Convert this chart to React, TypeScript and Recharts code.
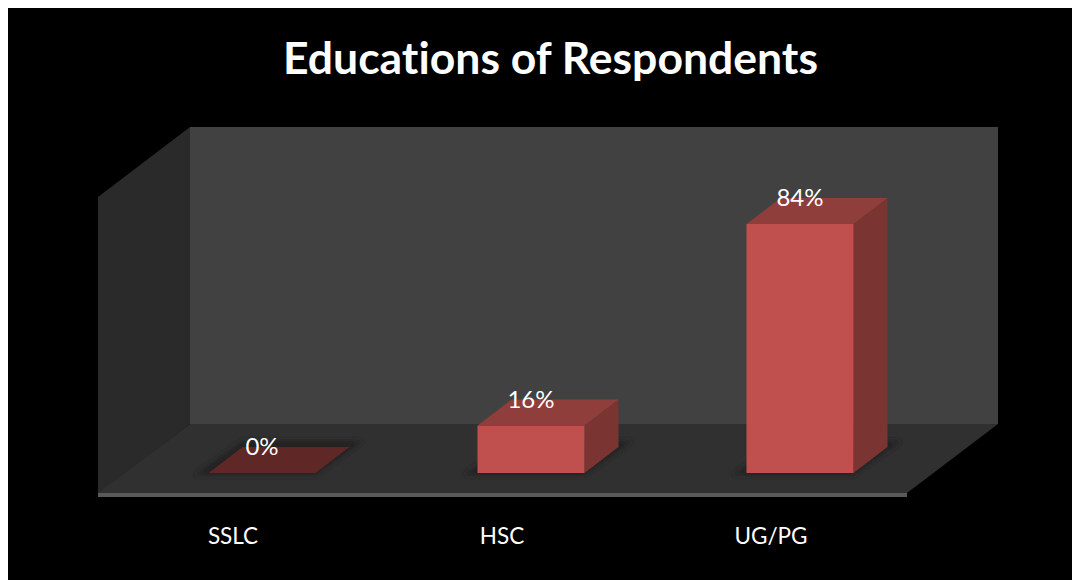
import { BarChart, Bar, XAxis, YAxis, LabelList } from 'recharts'

const categories = ['SSLC', 'HSC', 'UG/PG']
const shares = [0, 16, 84]
const chartData = categories.map((name, i) => ({ name, share: shares[i] }))

const WIDTH = 1072
const HEIGHT = 572
const FONT = 'Lato, "Open Sans", sans-serif'

// oblique offset used for the fake 3D depth of each column
const DEPTH_X = 34
const DEPTH_Y = 26

const pts = (list: number[][]) => list.map((p) => p.join(',')).join(' ')

function Box3D(props: any) {
  const { x, y, width, height } = props
  const right = x + width
  const base = y + height
  const flat = height < 1
  return (
    <g>
      <polygon
        points={pts([
          [x - 14, base + 2],
          [right, base + 2],
          [right + DEPTH_X + 14, base - DEPTH_Y - 6],
          [x + DEPTH_X, base - DEPTH_Y - 6],
        ])}
        fill="#222222"
        filter="url(#floorShadow)"
      />
      {!flat && (
        <polygon
          points={pts([
            [right, y],
            [right + DEPTH_X, y - DEPTH_Y],
            [right + DEPTH_X, base - DEPTH_Y],
            [right, base],
          ])}
          fill="#7a3431"
        />
      )}
      <polygon
        points={pts([
          [x, y],
          [right, y],
          [right + DEPTH_X, y - DEPTH_Y],
          [x + DEPTH_X, y - DEPTH_Y],
        ])}
        fill={flat ? '#5f2725' : '#8f3e3b'}
      />
      {!flat && <rect x={x} y={y} width={width} height={height} fill="#c0504d" />}
    </g>
  )
}

function CategoryTick({ x, y, payload }: any) {
  return (
    <text x={x - 29} y={y + 63} textAnchor="middle" fill="#ffffff" fontSize={22.5} fontFamily={FONT}>
      {payload.value}
    </text>
  )
}

export default function App() {
  return (
    <div style={{ width: WIDTH, height: HEIGHT, background: '#000' }}>
      <BarChart
        width={WIDTH}
        height={HEIGHT}
        data={chartData}
        margin={{ top: 168.6, right: 145.5, bottom: 47, left: 119.5 }}
        style={{ background: '#000' }}
      >
        <defs>
          <filter id="floorShadow" x="-20%" y="-40%" width="140%" height="180%">
            <feGaussianBlur stdDeviation="2.5" />
          </filter>
        </defs>
        {/* room behind the columns */}
        <polygon points={pts([[182, 119], [990, 119], [990, 416], [182, 416]])} fill="#414141" />
        <polygon points={pts([[90, 189], [182, 119], [182, 416], [90, 486]])} fill="#2a2a2a" />
        <polygon points={pts([[90, 485], [182, 416], [990, 416], [899, 485]])} fill="#303030" />
        <rect x={90} y={485} width={809} height={4} fill="#595959" />

        <text
          x={542.5}
          y={66}
          textAnchor="middle"
          fill="#ffffff"
          fontSize={44.5}
          fontWeight={700}
          fontFamily={FONT}
          style={{ fontVariantLigatures: 'none' }}
        >
          Educations of Respondents
        </text>

        <XAxis
          dataKey="name"
          height={60}
          axisLine={false}
          tickLine={false}
          interval={0}
          tick={CategoryTick}
        />
        <YAxis hide domain={[0, 100]} />
        <Bar dataKey="share" barSize={107} shape={Box3D} isAnimationActive={false}>
          <LabelList
            dataKey="share"
            position="top"
            offset={18}
            formatter={(v: any) => `${v}%`}
            fill="#ffffff"
            fontSize={24}
            fontFamily={FONT}
          />
        </Bar>
      </BarChart>
    </div>
  )
}
